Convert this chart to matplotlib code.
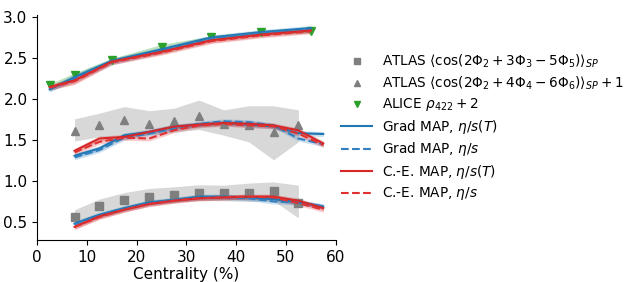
import numpy as np
import matplotlib
matplotlib.use("Agg")
import matplotlib.pyplot as plt

# ---------------- data ----------------
cent_mid = [7.5, 12.5, 17.5, 22.5, 27.5, 32.5, 37.5, 42.5, 47.5, 52.5, 57.5]
cent_atlas = [7.5, 12.5, 17.5, 22.5, 27.5, 32.5, 37.5, 42.5, 47.5, 52.5]
cent_alice = [2.5, 7.5, 15, 25, 35, 45, 55]

atlas_235 = [0.56, 0.70, 0.77, 0.81, 0.83, 0.85, 0.85, 0.85, 0.88, 0.73]
atlas_235_lo = [0.48, 0.62, 0.69, 0.73, 0.75, 0.76, 0.76, 0.75, 0.76, 0.55]
atlas_235_hi = [0.65, 0.78, 0.86, 0.91, 0.93, 0.955, 0.95, 0.975, 0.99, 0.95]

atlas_246 = [1.61, 1.68, 1.75, 1.70, 1.73, 1.80, 1.70, 1.69, 1.60, 1.68]
atlas_246_lo = [1.49, 1.54, 1.55, 1.56, 1.60, 1.63, 1.56, 1.48, 1.26, 1.48]
atlas_246_hi = [1.76, 1.83, 1.91, 1.86, 1.89, 1.99, 1.87, 1.92, 1.92, 1.87]

alice_422 = [2.17, 2.30, 2.48, 2.64, 2.755, 2.82, 2.83]
alice_422_err = [0.02, 0.02, 0.02, 0.03, 0.02, 0.02, 0.02]

# model curves (lower group: 2-3-5, middle: 2-4-6 +1, top: rho422 +2)
grad_T_235 = [0.48, 0.59, 0.67, 0.74, 0.77, 0.81, 0.81, 0.80, 0.78, 0.74, 0.69]
grad_c_235 = [0.47, 0.58, 0.66, 0.73, 0.77, 0.80, 0.80, 0.79, 0.75, 0.74, 0.69]
ce_T_235 = [0.44, 0.57, 0.65, 0.72, 0.76, 0.79, 0.80, 0.81, 0.81, 0.76, 0.67]
ce_c_235 = [0.44, 0.56, 0.65, 0.72, 0.76, 0.79, 0.80, 0.81, 0.80, 0.73, 0.65]

grad_T_246 = [1.31, 1.40, 1.56, 1.60, 1.665, 1.69, 1.71, 1.69, 1.67, 1.585, 1.575]
grad_c_246 = [1.29, 1.38, 1.53, 1.58, 1.64, 1.70, 1.73, 1.72, 1.68, 1.52, 1.45]
ce_T_246 = [1.37, 1.52, 1.54, 1.60, 1.665, 1.69, 1.71, 1.70, 1.68, 1.62, 1.46]
ce_c_246 = [1.35, 1.48, 1.53, 1.52, 1.62, 1.68, 1.70, 1.68, 1.67, 1.58, 1.44]

grad_T_422 = [2.12, 2.27, 2.47, 2.61, 2.755, 2.82, 2.87]
grad_c_422 = [2.13, 2.25, 2.45, 2.59, 2.74, 2.81, 2.85]
ce_T_422 = [2.15, 2.23, 2.46, 2.58, 2.72, 2.79, 2.84]
ce_c_422 = [2.14, 2.22, 2.45, 2.57, 2.71, 2.78, 2.83]

band_mid = [0.03, 0.03, 0.03, 0.03, 0.03, 0.03, 0.03, 0.03, 0.03, 0.03, 0.03]
band_top = [0.03, 0.04, 0.03, 0.03, 0.03, 0.03, 0.03]

# ---------------- plot ----------------
fig = plt.figure(figsize=(6.31, 2.82), dpi=100)
ax = fig.add_axes([0.059, 0.149, 0.473, 0.798])

gray = "#7f7f7f"
ax.fill_between(cent_atlas, atlas_235_lo, atlas_235_hi, color="#c8c8c8", alpha=0.7, lw=0)
ax.fill_between(cent_atlas, atlas_246_lo, atlas_246_hi, color="#c8c8c8", alpha=0.7, lw=0)
ax.fill_between(cent_alice, np.array(alice_422) - np.array(alice_422_err),
                np.array(alice_422) + np.array(alice_422_err), color="tab:green", alpha=0.3, lw=0)

h1, = ax.plot(cent_atlas, atlas_235, "s", color=gray, ms=6, ls="none")
h2, = ax.plot(cent_atlas, atlas_246, "^", color=gray, ms=6, ls="none")
h3, = ax.plot(cent_alice, alice_422, "v", color="tab:green", ms=6, ls="none")

blue = "#1f77b4"
blue2 = "#2f7fc1"
red = "#d62728"
red2 = "#e03030"

models = [
    (grad_T_235, grad_T_246, grad_T_422, blue, "-"),
    (grad_c_235, grad_c_246, grad_c_422, blue2, "--"),
    (ce_T_235, ce_T_246, ce_T_422, red, "-"),
    (ce_c_235, ce_c_246, ce_c_422, red2, "--"),
]
handles = []
for y235, y246, y422, c, ls in models:
    for xs, ys, bw in ((cent_mid, y235, band_mid), (cent_mid, y246, band_mid), (cent_alice, y422, band_top)):
        ys = np.array(ys)
        bw = np.array(bw)
        ax.fill_between(xs, ys - bw, ys + bw, color=c, alpha=0.25, lw=0)
        h, = ax.plot(xs, ys, color=c, ls=ls, lw=1.5)
    handles.append(h)

labels = [
    r"ATLAS $\langle\cos(2\Phi_2+3\Phi_3-5\Phi_5)\rangle_{SP}$",
    r"ATLAS $\langle\cos(2\Phi_2+4\Phi_4-6\Phi_6)\rangle_{SP}+1$",
    r"ALICE $\rho_{422}+2$",
    r"Grad MAP, $\eta/s(T)$",
    r"Grad MAP, $\eta/s$",
    r"C.-E. MAP, $\eta/s(T)$",
    r"C.-E. MAP, $\eta/s$",
]
leg = ax.legend([h1, h2, h3] + handles, labels, loc="center left", bbox_to_anchor=(1.0, 0.5),
                frameon=False, fontsize=9.8, handlelength=2.3, handletextpad=0.7,
                labelspacing=0.33, borderaxespad=0.2, borderpad=0.2, markerscale=0.8)

ax.set_xlim(0, 60)
ax.set_ylim(0.28, 3.03)
ax.set_xticks([0, 10, 20, 30, 40, 50, 60])
ax.set_yticks([0.5, 1.0, 1.5, 2.0, 2.5, 3.0])
ax.tick_params(labelsize=11)
ax.set_xlabel("Centrality (%)", fontsize=11, labelpad=2)
ax.spines["top"].set_visible(False)
ax.spines["right"].set_visible(False)

fig.savefig("out.png", dpi=100)
